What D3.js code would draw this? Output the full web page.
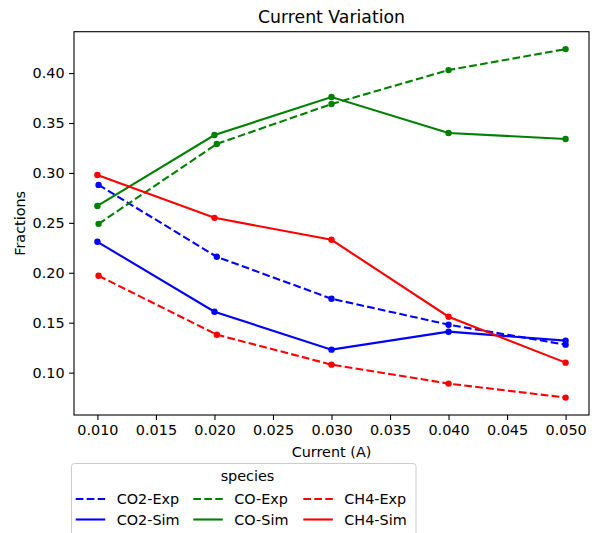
<!DOCTYPE html>
<html>
<head>
<meta charset="utf-8">
<script src="https://cdn.jsdelivr.net/npm/d3@7"></script>
<style>
  body { margin: 0; background: #fff; }
  text { font-family: "DejaVu Sans", sans-serif; fill: #000; }
</style>
</head>
<body>
<div id="chart"></div>
<script>
// data
const simCurrents = [0.010, 0.020, 0.030, 0.040, 0.050];
const expCurrents = [0.0101, 0.0202, 0.030, 0.040, 0.050];
const co2Exp = [0.288, 0.216, 0.174, 0.148, 0.128];
const co2Sim = [0.231, 0.161, 0.123, 0.141, 0.132];
const coExp = [0.249, 0.329, 0.369, 0.403, 0.424];
const coSim = [0.267, 0.338, 0.376, 0.340, 0.334];
const ch4Exp = [0.197, 0.138, 0.108, 0.089, 0.075];
const ch4Sim = [0.298, 0.255, 0.233, 0.156, 0.110];
const xTicks = [0.010, 0.015, 0.020, 0.025, 0.030, 0.035, 0.040, 0.045, 0.050];
const yTicks = [0.10, 0.15, 0.20, 0.25, 0.30, 0.35, 0.40];

const series = [
  { name: "CO2-Exp", x: expCurrents, y: co2Exp, color: "#0000ff", dashed: true },
  { name: "CO2-Sim", x: simCurrents, y: co2Sim, color: "#0000ff", dashed: false },
  { name: "CO-Exp", x: expCurrents, y: coExp, color: "#008000", dashed: true },
  { name: "CO-Sim", x: simCurrents, y: coSim, color: "#008000", dashed: false },
  { name: "CH4-Exp", x: expCurrents, y: ch4Exp, color: "#ff0000", dashed: true },
  { name: "CH4-Sim", x: simCurrents, y: ch4Sim, color: "#ff0000", dashed: false }
];

const W = 598, H = 533;
const plot = { left: 74, right: 589, top: 31.7, bottom: 415 };
const fs = "14.4px";

const svg = d3.select("#chart").append("svg")
  .attr("width", W).attr("height", H);

// matplotlib-like 5% margins
const allY = series.flatMap(s => s.y);
function padded(ext) {
  const m = (ext[1] - ext[0]) * 0.05;
  return [ext[0] - m, ext[1] + m];
}
const x = d3.scaleLinear().domain(padded([0.010, 0.050])).range([plot.left, plot.right]);
const y = d3.scaleLinear().domain(padded(d3.extent(allY))).range([plot.bottom, plot.top]);

// axes
const xAxis = svg.append("g")
  .attr("transform", `translate(0,${plot.bottom})`)
  .call(d3.axisBottom(x).tickValues(xTicks).tickFormat(d3.format(".3f")).tickSizeOuter(0).tickSize(4.9).tickPadding(4.5));
const yAxis = svg.append("g")
  .attr("transform", `translate(${plot.left},0)`)
  .call(d3.axisLeft(y).tickValues(yTicks).tickFormat(d3.format(".2f")).tickSizeOuter(0).tickSize(4.9).tickPadding(4.5));
[xAxis, yAxis].forEach(g => {
  g.select(".domain").remove();
  g.selectAll("line").attr("stroke", "#000").attr("stroke-width", 1.1);
  g.selectAll("text").style("font-family", "DejaVu Sans").style("font-size", fs).attr("fill", "#000");
});

// spines
svg.append("rect")
  .attr("x", plot.left).attr("y", plot.top)
  .attr("width", plot.right - plot.left).attr("height", plot.bottom - plot.top)
  .attr("fill", "none").attr("stroke", "#000").attr("stroke-width", 1.1);

// lines + markers
const line = d3.line().x(d => x(d[0])).y(d => y(d[1]));
series.forEach(s => {
  const pts = s.x.map((v, i) => [v, s.y[i]]);
  svg.append("path")
    .datum(pts)
    .attr("d", line)
    .attr("fill", "none")
    .attr("stroke", s.color)
    .attr("stroke-width", 2.1)
    .attr("stroke-dasharray", s.dashed ? "7.7,3.3" : null);
  svg.append("g").selectAll("circle")
    .data(pts)
    .join("circle")
    .attr("cx", d => x(d[0]))
    .attr("cy", d => y(d[1]))
    .attr("r", 3.2)
    .attr("fill", s.color);
});

// title and labels
svg.append("text")
  .attr("x", (plot.left + plot.right) / 2).attr("y", 23)
  .attr("text-anchor", "middle").style("font-size", "17.3px")
  .text("Current Variation");
svg.append("text")
  .attr("x", (plot.left + plot.right) / 2).attr("y", 457)
  .attr("text-anchor", "middle").style("font-size", fs)
  .text("Current (A)");
svg.append("text")
  .attr("transform", `translate(25,${(plot.top + plot.bottom) / 2}) rotate(-90)`)
  .attr("text-anchor", "middle").style("font-size", fs)
  .text("Fractions");

// legend (runs off the bottom like the original)
const legend = svg.append("g");
legend.append("rect")
  .attr("x", 71.5).attr("y", 463.5)
  .attr("width", 344.5).attr("height", 90)
  .attr("rx", 3)
  .attr("fill", "#fff").attr("fill-opacity", 0.8)
  .attr("stroke", "#cccccc").attr("stroke-width", 1);
legend.append("text")
  .attr("x", 247.5).attr("y", 481)
  .attr("text-anchor", "middle").style("font-size", fs)
  .text("species");

const colX = [75.7, 193.3, 303.3];
const rowY = [499, 519.5];
series.forEach((s, i) => {
  const cx = colX[Math.floor(i / 2)];
  const ry = rowY[i % 2];
  legend.append("line")
    .attr("x1", cx).attr("x2", cx + 29.5)
    .attr("y1", ry).attr("y2", ry)
    .attr("stroke", s.color).attr("stroke-width", 2.1)
    .attr("stroke-dasharray", s.dashed ? "7.7,3.3" : null);
  legend.append("text")
    .attr("x", cx + 41).attr("y", ry + 5)
    .style("font-size", fs)
    .text(s.name);
});
</script>
</body>
</html>
